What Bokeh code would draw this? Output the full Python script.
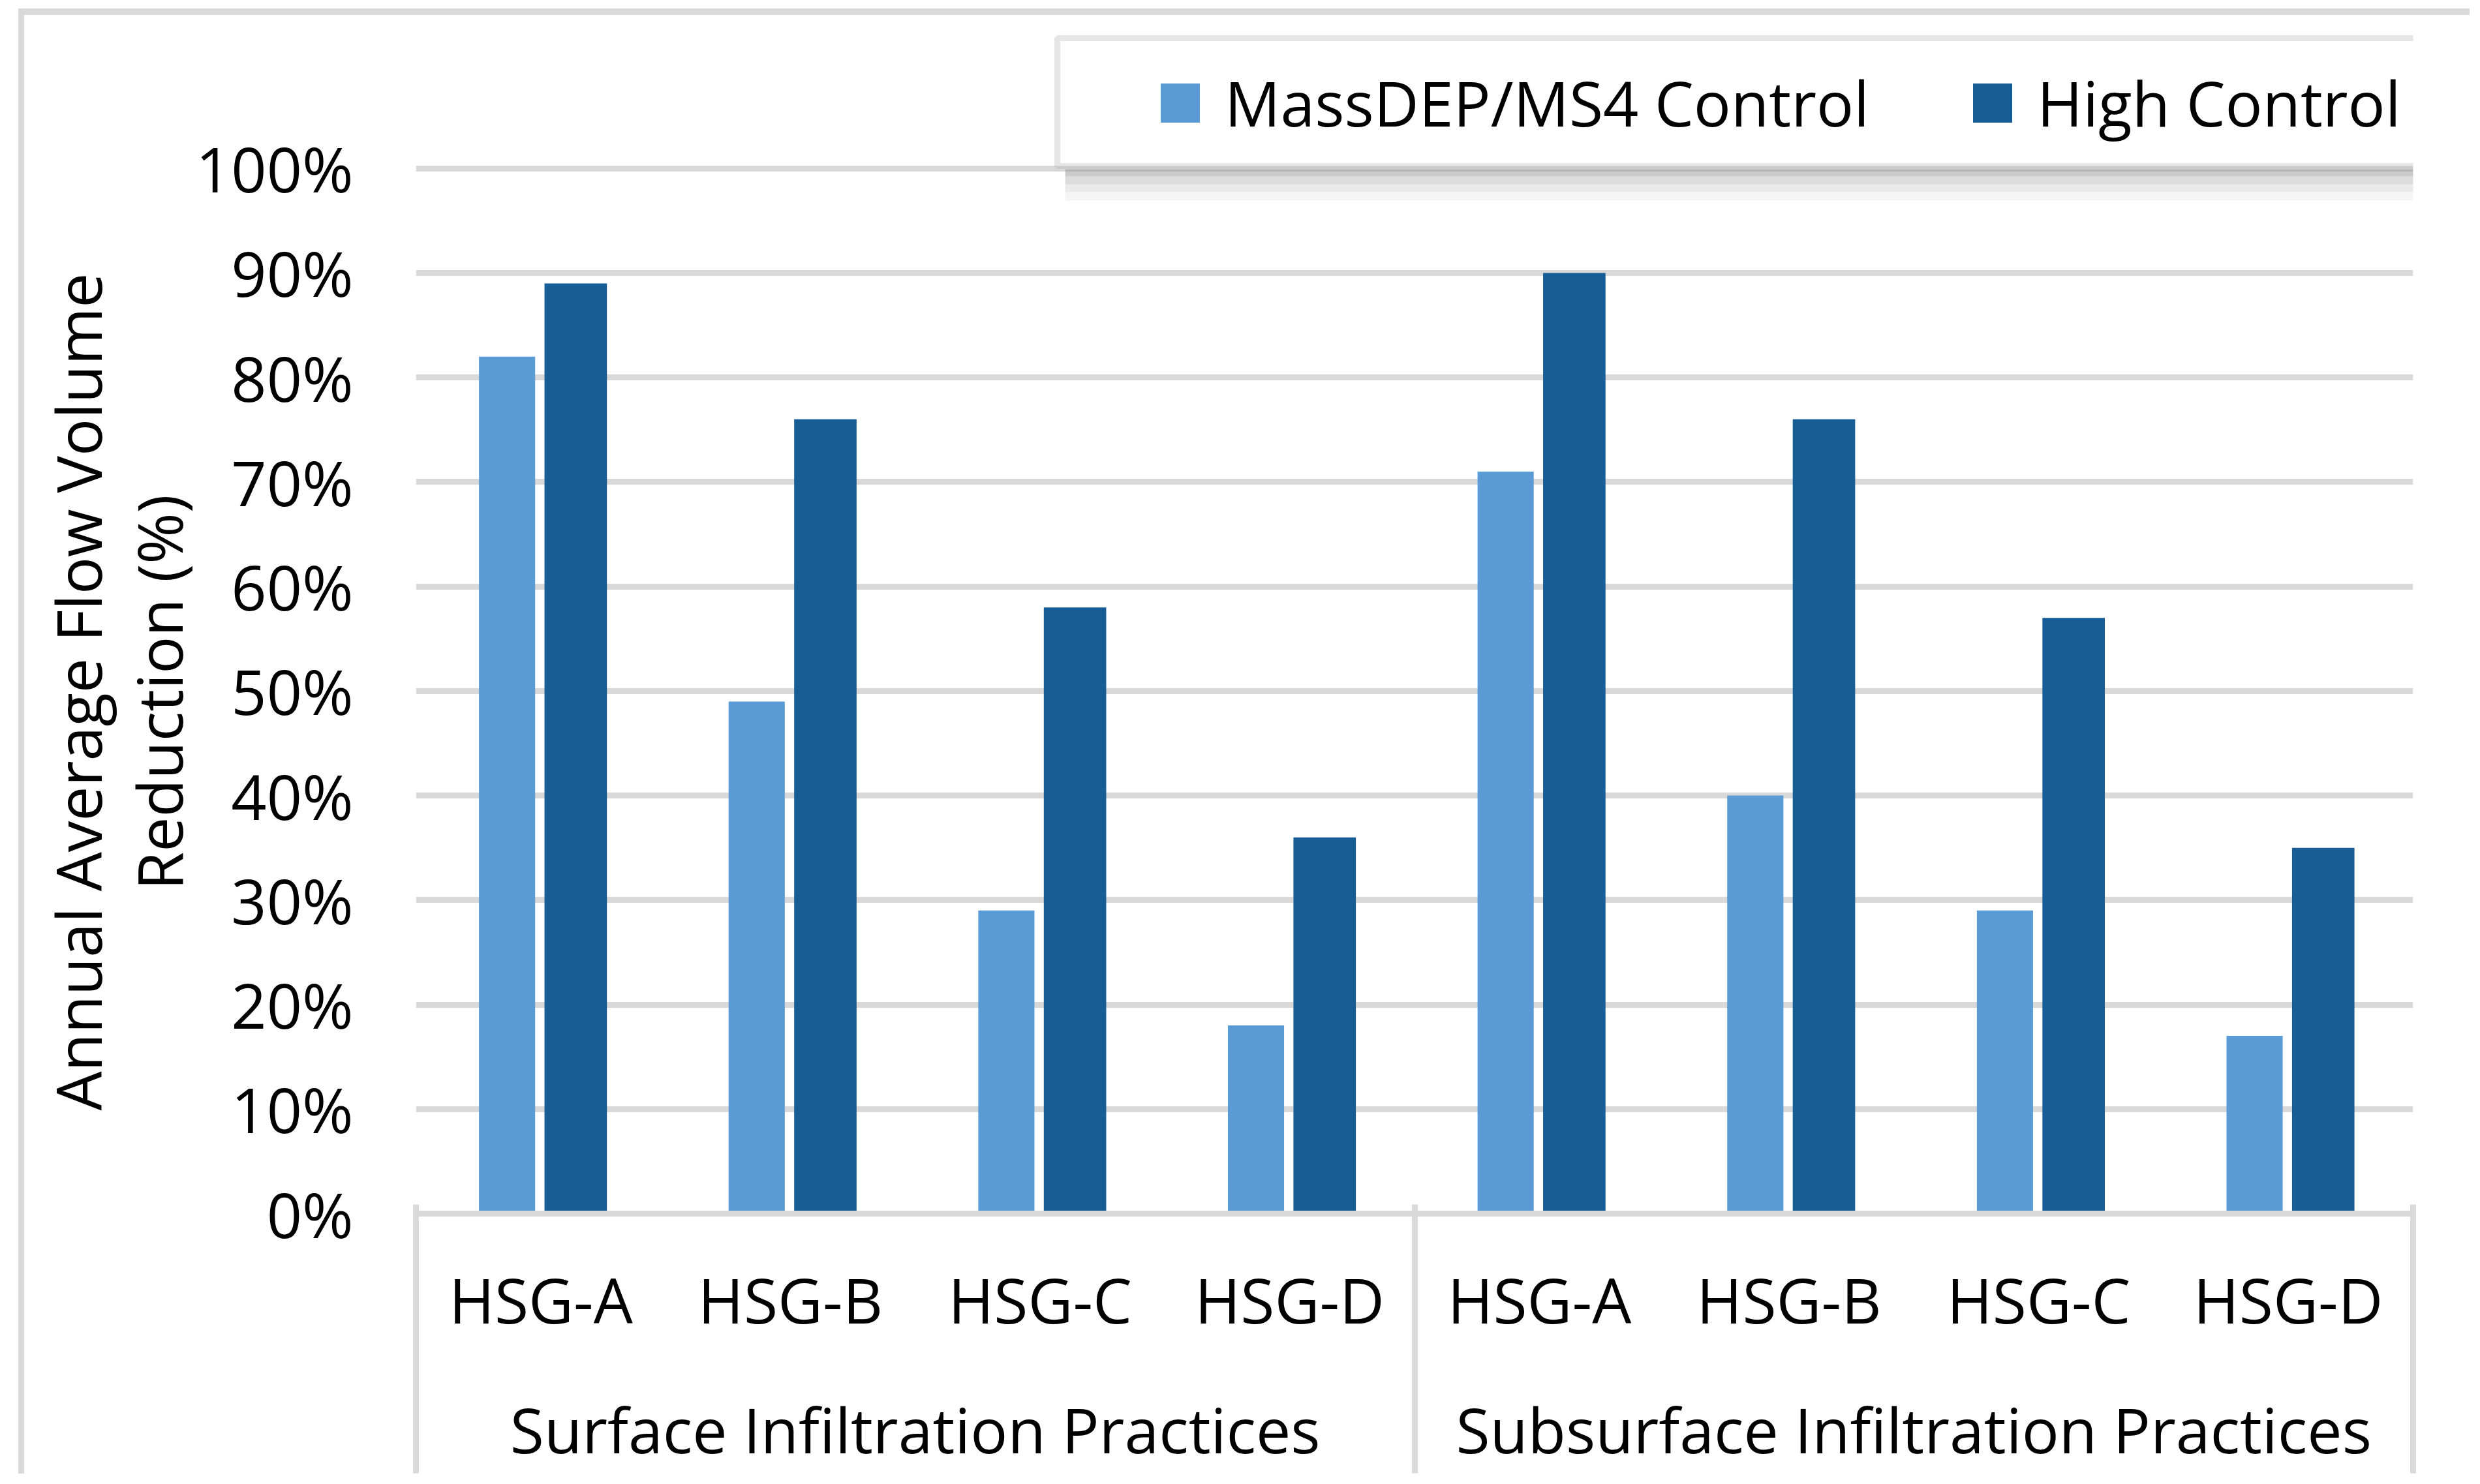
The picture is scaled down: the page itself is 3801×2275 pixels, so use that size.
from bokeh.plotting import figure
from bokeh.models import (FactorRange, Range1d, FixedTicker, Legend, LegendItem,
                          ColumnDataSource, LinearAxis, BoxAnnotation, Title)
from bokeh.transform import dodge
from bokeh.embed import file_html
from bokeh.resources import INLINE

# ---- data ----
groups = ["Surface Infiltration Practices", "Subsurface Infiltration Practices"]
soils = ["HSG-A", "HSG-B", "HSG-C", "HSG-D"]
series_names = ["MassDEP/MS4 Control", "High Control"]
massdep_control = [82, 49, 29, 18, 71, 40, 29, 17]
high_control = [89, 76, 58, 36, 90, 76, 57, 35]
y_ticks = [0, 10, 20, 30, 40, 50, 60, 70, 80, 90, 100]
y_tick_labels = [f"{t}%" for t in y_ticks]
y_title_lines = ["Annual Average Flow Volume", "Reduction (%)"]

LIGHT = "#5B9BD5"
DARK = "#175D96"
GRID = "#D9D9D9"
FONT = "Open Sans"
FS = "95px"

factors = [(g, s) for g in groups for s in soils]
src = ColumnDataSource(dict(x=factors, m=massdep_control, h=high_control))

p = figure(
    width=3757, height=2246,
    x_range=FactorRange(*factors, factor_padding=0, group_padding=0, range_padding=0),
    y_range=Range1d(0, 114.65),
    output_backend="svg", toolbar_location=None,
    min_border_left=600, min_border_right=96, min_border_top=0, min_border_bottom=409,
    styles={"margin-left": "28px", "margin-top": "13px",
            "border-top": "10px solid #D9D9D9", "border-left": "9px solid #D9D9D9"},
)
p.outline_line_color = None
p.background_fill_color = "white"
p.border_fill_color = "white"

r1 = p.vbar(x=dodge("x", -0.135, range=p.x_range), top="m", width=0.225, bottom=0,
            source=src, fill_color=LIGHT, line_color=None)
r2 = p.vbar(x=dodge("x", 0.14, range=p.x_range), top="h", width=0.25, bottom=0,
            source=src, fill_color=DARK, line_color=None)

# y axis
yax = p.yaxis[0]
yax.ticker = FixedTicker(ticks=y_ticks)
yax.major_label_overrides = {t: l for t, l in zip(y_ticks, y_tick_labels)}
yax.axis_line_color = None
yax.major_tick_line_color = None
yax.minor_tick_line_color = None
yax.major_tick_out = 0
yax.minor_tick_out = 0
yax.major_label_standoff = 96
yax.major_label_text_font = FONT
yax.major_label_text_font_size = FS
yax.major_label_text_color = "black"

# y-axis title (two lines), centred on the 0-100 % span of the axis
has_standoff = "standoff" in Title.properties()
for line, so, off in [(y_title_lines[1], -21, 496), (y_title_lines[0], 6, 158)]:
    t = Title(text=line, align="left", offset=off,
              text_font=FONT, text_font_size=FS, text_font_style="normal",
              text_color="black")
    if has_standoff:
        t.standoff = so
    p.add_layout(t, "left")

# x axis (categorical, two levels)
xax = p.xaxis[0]
xax.axis_line_color = GRID
xax.axis_line_width = 9
xax.major_tick_line_color = None
xax.minor_tick_line_color = None
xax.major_tick_out = 0
xax.minor_tick_out = 0
xax.major_label_standoff = 66
xax.major_label_text_font = FONT
xax.major_label_text_font_size = FS
xax.major_label_text_color = "black"
xax.group_text_font = FONT
xax.group_text_font_size = FS
xax.group_text_font_style = "normal"
xax.group_text_color = "black"
xax.separator_line_color = None

# outer axis that only draws the category-box edges (ticks pointing up to the axis line)
edge_axis = LinearAxis(ticker=FixedTicker(ticks=[0, len(soils), len(factors)]))
edge_axis.axis_line_color = None
edge_axis.major_tick_in = 412
edge_axis.major_tick_out = 0
edge_axis.minor_tick_in = 0
edge_axis.minor_tick_out = 0
edge_axis.major_tick_line_color = GRID
edge_axis.major_tick_line_width = 9
edge_axis.minor_tick_line_color = None
edge_axis.major_label_text_color = None
edge_axis.major_label_standoff = 0
p.add_layout(edge_axis, "below")

p.ygrid.grid_line_color = GRID
p.ygrid.grid_line_width = 9
p.xgrid.grid_line_color = None

# legend shadow (soft gradient) and box, screen units relative to the frame's bottom-left
def sbox(**kw):
    return BoxAnnotation(left_units="screen", right_units="screen",
                         top_units="screen", bottom_units="screen", **kw)

for top, bottom, col, alpha in [(1601, 1590, "#8C8C8C", 0.45),
                                (1590, 1578, "#A8A8A8", 0.40),
                                (1578, 1566, "#C4C4C4", 0.35),
                                (1566, 1553, "#E2E2E2", 0.35)]:
    p.add_layout(sbox(left=995, right=3200, top=top, bottom=bottom,
                      fill_color=col, fill_alpha=alpha, line_color=None))
p.add_layout(sbox(left=983, right=3152, top=1802, bottom=1606,
                  fill_color="white", fill_alpha=1.0,
                  line_color="#ADAAAA", line_width=9))

legend = Legend(
    items=[LegendItem(label=series_names[0], renderers=[r1]),
           LegendItem(label=series_names[1], renderers=[r2])],
    orientation="horizontal", location=(1134, 1638),
    border_line_color=None, background_fill_alpha=0,
    glyph_width=75, glyph_height=75, label_standoff=31, spacing=151,
    padding=0, margin=0,
    label_text_font=FONT, label_text_font_size=FS, label_text_color="black",
)
p.add_layout(legend, "center")

open("out.html", "w").write(file_html(p, INLINE))
